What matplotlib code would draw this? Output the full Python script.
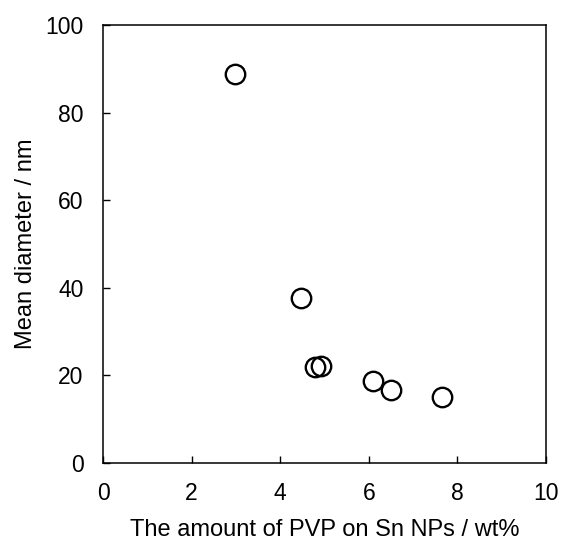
import matplotlib
matplotlib.use('Agg')
import matplotlib.pyplot as plt

# Data
pvp_wt = [2.98, 4.46, 4.79, 4.91, 6.10, 6.50, 7.66]
mean_diameter = [88.8, 37.6, 21.8, 22.1, 18.6, 16.6, 15.1]
x_ticks = [0, 2, 4, 6, 8, 10]
y_ticks = [0, 20, 40, 60, 80, 100]

plt.rcParams['font.family'] = ['Liberation Sans', 'DejaVu Sans']

fig = plt.figure(figsize=(5.63, 5.42), dpi=100)
ax = fig.add_axes([0.183, 0.146, 0.787, 0.808])

ax.plot(pvp_wt, mean_diameter, linestyle='none', marker='o', markersize=14,
        markerfacecolor='none', markeredgecolor='black', markeredgewidth=1.7)

ax.set_xlim(0, 10)
ax.set_ylim(0, 100)
ax.set_xticks(x_ticks)
ax.set_yticks(y_ticks)
ax.tick_params(direction='in', length=5, width=1, labelsize=16.5)
ax.tick_params(axis='x', pad=14)
ax.tick_params(axis='y', pad=14)
for s in ax.spines.values():
    s.set_linewidth(1.1)

ax.set_xlabel("The amount of PVP on Sn NPs / wt%", fontsize=17, labelpad=10)
ax.set_ylabel("Mean diameter / nm", fontsize=17, labelpad=6)

fig.savefig('out.png', dpi=100)
